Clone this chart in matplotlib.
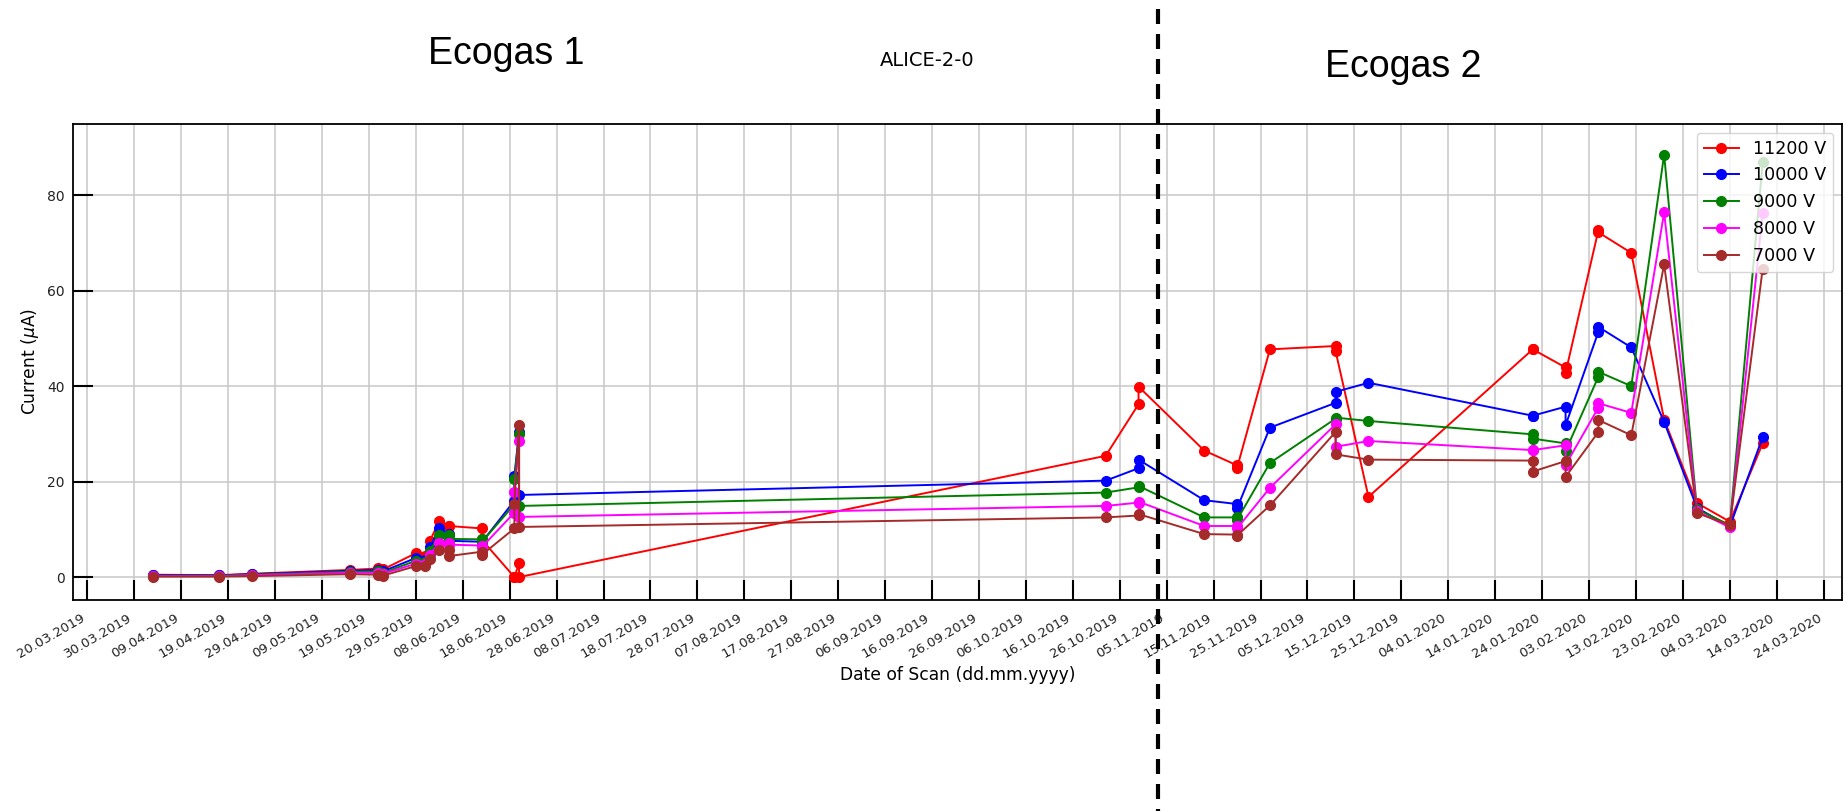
import matplotlib
matplotlib.use("Agg")
import matplotlib.pyplot as plt
import matplotlib.dates as mdates
from matplotlib.lines import Line2D
import pandas as pd
import numpy as np

# ---------------- data ----------------
scan_dates = [
    '2019-04-03', '2019-04-17', '2019-04-24', '2019-05-15', '2019-05-21', '2019-05-22',
    '2019-05-29', '2019-05-31', '2019-06-01', '2019-06-03', '2019-06-05', '2019-06-05',
    '2019-06-12', '2019-06-12', '2019-06-19', '2019-06-19', '2019-06-20', '2019-06-20',
    '2019-10-23', '2019-10-30', '2019-10-30', '2019-11-13', '2019-11-20', '2019-11-20',
    '2019-11-27', '2019-12-11', '2019-12-11', '2019-12-18',
    '2020-01-22', '2020-01-22', '2020-01-29', '2020-01-29', '2020-02-05', '2020-02-05',
    '2020-02-12', '2020-02-19', '2020-02-26', '2020-03-04', '2020-03-11']

current_11200 = [0.5, 0.4, 0.7, 1.5, 1.8, 1.6, 5.0, 4.5, 7.6, 11.7, 10.7, 10.7,
                 10.2, 7.9, 0.0, 0.0, 2.9, 0.0,
                 25.4, 36.2, 39.9, 26.5, 23.4, 22.9, 47.7, 48.4, 47.3, 16.8,
                 47.7, 47.7, 43.9, 42.8, 72.7, 72.2, 67.9, 33.0, 15.5, 11.6, 28.0]
current_10000 = [0.4, 0.35, 0.6, 1.3, 1.5, 1.2, 4.0, 3.5, 6.2, 10.2, 9.1, 7.6,
                 7.4, 7.2, 16.0, 21.2, 30.3, 17.2,
                 20.2, 22.8, 24.6, 16.1, 15.3, 14.4, 31.3, 36.5, 38.8, 40.7,
                 33.8, 33.8, 35.7, 31.8, 51.4, 52.4, 48.1, 32.5, 14.5, 10.6, 29.3]
current_9000 = [0.3, 0.3, 0.5, 1.1, 1.2, 0.9, 3.4, 3.2, 5.4, 8.8, 8.8, 8.0,
                7.9, 7.3, 15.2, 20.5, 29.9, 14.9,
                17.7, 18.8, 19.1, 12.5, 12.5, 12.0, 23.9, 33.2, 33.4, 32.7,
                29.9, 29.0, 28.0, 26.4, 42.0, 43.0, 40.0, 88.5, 14.2, 10.9, 86.9]
current_8000 = [0.2, 0.2, 0.4, 0.9, 0.9, 0.7, 2.8, 2.8, 4.7, 7.2, 7.2, 6.8,
                6.6, 6.2, 13.5, 17.9, 28.5, 12.6,
                14.9, 15.6, 15.8, 10.7, 10.7, 10.2, 18.7, 32.0, 27.3, 28.5,
                26.6, 26.6, 27.6, 23.5, 35.5, 36.4, 34.4, 76.4, 13.8, 10.4, 76.2]
current_7000 = [0.1, 0.1, 0.2, 0.6, 0.5, 0.3, 2.3, 2.4, 3.7, 5.7, 5.7, 4.4,
                5.3, 4.6, 10.2, 15.4, 31.8, 10.5,
                12.5, 12.9, 13.2, 9.0, 8.9, 8.7, 15.0, 30.4, 25.7, 24.6,
                24.4, 22.1, 24.3, 21.0, 30.4, 32.9, 29.7, 65.5, 13.4, 10.9, 64.6]

series_labels = ['11200 V', '10000 V', '9000 V', '8000 V', '7000 V']
series_colors = ['red', 'blue', 'green', 'magenta', 'brown']
series_values = [current_11200, current_10000, current_9000, current_8000, current_7000]

tick_start = '2019-03-20'
tick_end = '2020-03-24'
y_ticks = [0, 20, 40, 60, 80]

# ---------------- figure ----------------
W, H = 1845, 811
fig = plt.figure(figsize=(W / 100, H / 100), dpi=100)
ax = fig.add_axes([73 / W, (H - 600) / H, (1842 - 73) / W, (600 - 124) / H])

dates = pd.to_datetime(scan_dates)
for vals, lab, col in zip(series_values, series_labels, series_colors):
    ax.plot(dates, vals, marker='o', color=col, label=lab, lw=1.4, ms=7)

ticks = pd.date_range(tick_start, tick_end, freq='10D')
ax.set_xticks(ticks)
ax.xaxis.set_major_formatter(mdates.DateFormatter('%d.%m.%Y'))
plt.setp(ax.get_xticklabels(), rotation=30, ha='right', fontsize=9.5, color='#222222')
ax.set_yticks(y_ticks)
plt.setp(ax.get_yticklabels(), fontsize=10, color='#222222')

t0 = mdates.date2num(pd.Timestamp(tick_start))
ax.set_xlim(t0 - 3.05, t0 + 373.9)
ax.set_ylim(-4.8, 94.9)

ax.grid(True, color='#c8c8c8', lw=1.1)
ax.set_axisbelow(True)
ax.tick_params(axis='both', direction='in', length=14.5, width=1.5)
ax.tick_params(axis='x', pad=8)
ax.tick_params(axis='y', pad=6)
for sp in ax.spines.values():
    sp.set_linewidth(1.3)

ax.set_xlabel('Date of Scan (dd.mm.yyyy)', fontsize=12.3, labelpad=4)
ax.set_ylabel('Current ($\\mu$A)', fontsize=12.3)

ax.legend(loc='upper right', fontsize=12.6)

fig.text(506 / W, 1 - 54 / H, 'Ecogas 1', family='Liberation Sans', fontsize=27,
         ha='center', va='center')
fig.text(1403 / W, 1 - 67 / H, 'Ecogas 2', family='Liberation Sans', fontsize=27,
         ha='center', va='center')
fig.text(927 / W, 1 - 61 / H, 'ALICE-2-0', fontsize=14, ha='center', va='center')

fig.add_artist(Line2D([1158 / W, 1158 / W], [1 - 9 / H, 0], transform=fig.transFigure,
                      color='black', lw=3, linestyle=(0, (3.6, 2.4))))

fig.savefig('out.png', dpi=100)
